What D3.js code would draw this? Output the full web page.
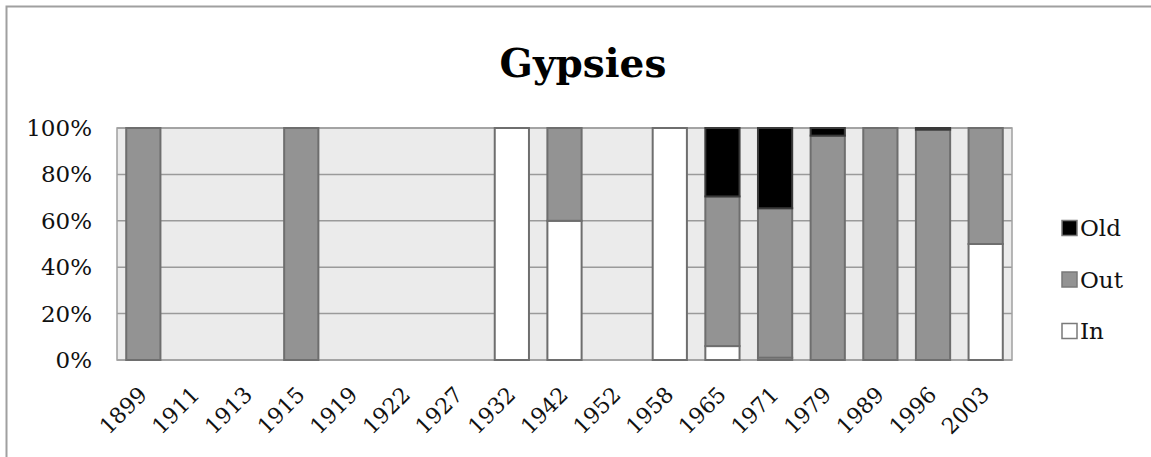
<!DOCTYPE html>
<html>
<head>
<meta charset="utf-8">
<script src="https://cdn.jsdelivr.net/npm/d3@7"></script>
<style>
  body { margin: 0; background: #fff; }
  svg { display: block; font-family: "DejaVu Serif", serif; }
</style>
</head>
<body>
<svg width="1151" height="457"></svg>
<script>
// data (percent shares)
var years = ["1899","1911","1913","1915","1919","1922","1927","1932","1942","1952","1958","1965","1971","1979","1989","1996","2003"];
var inVals  = [0, 0, 0, 0,   0, 0, 0, 100, 60, 0, 100, 6,    1,    0,    0,   0,    50];
var outVals = [100, 0, 0, 100, 0, 0, 0, 0, 40, 0, 0,  64.5, 64.4, 96.7, 100, 99.3, 50];
var oldVals = [0, 0, 0, 0,   0, 0, 0, 0,   0,  0, 0,  29.5, 34.6, 3.3,  0,   0.7,  0];
var yTicks = [0, 20, 40, 60, 80, 100];
var seriesNames = ["In", "Out", "Old"];
var colors = { In: "#ffffff", Out: "#939393", Old: "#000000" };
var strokes = { In: "#6e6e6e", Out: "#6e6e6e", Old: "#3a3a3a" };

var svg = d3.select("svg");

// chart frame (only left and top visible)
svg.append("rect")
  .attr("x", 6.5).attr("y", 6.5)
  .attr("width", 1160).attr("height", 470)
  .attr("fill", "none").attr("stroke", "#a0a0a0").attr("stroke-width", 2);

var plot = { left: 117, right: 1012, top: 128, bottom: 360 };

var x = d3.scaleBand().domain(years).range([plot.left, plot.right]).paddingInner(0).paddingOuter(0);
var y = d3.scaleLinear().domain([0, 100]).range([plot.bottom, plot.top]);
var barW = x.bandwidth() * 0.65;

// background
svg.append("rect")
  .attr("x", plot.left).attr("y", plot.top)
  .attr("width", plot.right - plot.left).attr("height", plot.bottom - plot.top)
  .attr("fill", "#ebebeb");

// gridlines
svg.append("g").selectAll("line").data(yTicks).join("line")
  .attr("x1", plot.left).attr("x2", plot.right)
  .attr("y1", function(d) { return y(d); }).attr("y2", function(d) { return y(d); })
  .attr("stroke", "#9a9a9a").attr("stroke-width", 1.5);

// plot border
svg.append("rect")
  .attr("x", plot.left).attr("y", plot.top)
  .attr("width", plot.right - plot.left).attr("height", plot.bottom - plot.top)
  .attr("fill", "none").attr("stroke", "#a0a0a0").attr("stroke-width", 1.5);

// stacked bars
var table = years.map(function(yr, i) { return { year: yr, In: inVals[i], Out: outVals[i], Old: oldVals[i] }; });
var stacked = d3.stack().keys(seriesNames)(table);

svg.append("g").selectAll("g").data(stacked).join("g")
  .attr("fill", function(s) { return colors[s.key]; })
  .attr("stroke", function(s) { return strokes[s.key]; })
  .attr("stroke-width", 2)
  .selectAll("rect").data(function(s) { return s.filter(function(d) { return d[1] - d[0] > 0; }); }).join("rect")
  .attr("x", function(d) { return x(d.data.year) + (x.bandwidth() - barW) / 2; })
  .attr("width", barW)
  .attr("y", function(d) { return y(d[1]); })
  .attr("height", function(d) { return y(d[0]) - y(d[1]); });

// y axis labels
svg.append("g").selectAll("text").data(yTicks).join("text")
  .attr("x", 92).attr("y", function(d) { return y(d); })
  .attr("dy", "0.35em")
  .attr("text-anchor", "end")
  .attr("font-size", 23)
  .attr("fill", "#111")
  .text(function(d) { return d + "%"; });

// x axis labels
svg.append("g").selectAll("text").data(years).join("text")
  .attr("text-anchor", "end")
  .attr("font-size", 22)
  .attr("fill", "#111")
  .attr("transform", function(d) {
    return "translate(" + (x(d) + x.bandwidth() / 2 + 5) + ",396) rotate(-45)";
  })
  .text(function(d) { return d; });

// title
svg.append("text")
  .attr("x", 583).attr("y", 77)
  .attr("text-anchor", "middle")
  .attr("font-size", 39)
  .attr("font-weight", "bold")
  .attr("fill", "#000")
  .text("Gypsies");

// legend
var legendItems = ["Old", "Out", "In"];
var legendY = d3.scalePoint().domain(legendItems).range([228, 331]);
var lg = svg.append("g").selectAll("g").data(legendItems).join("g")
  .attr("transform", function(d) { return "translate(1062," + legendY(d) + ")"; });
lg.append("rect")
  .attr("x", 0).attr("y", -7.5).attr("width", 15).attr("height", 15)
  .attr("fill", function(d) { return colors[d]; })
  .attr("stroke", "#7a7a7a").attr("stroke-width", 1.5);
lg.append("text")
  .attr("x", 18).attr("dy", "0.35em")
  .attr("font-size", 23)
  .attr("fill", "#111")
  .text(function(d) { return d; });
</script>
</body>
</html>
